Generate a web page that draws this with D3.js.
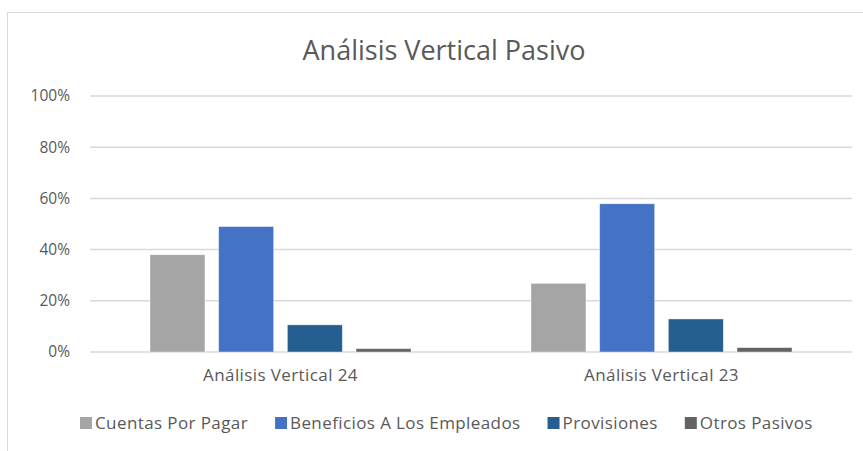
<!DOCTYPE html>
<html>
<head>
<meta charset="utf-8">
<script src="https://cdn.jsdelivr.net/npm/d3@7"></script>
<style>
  body { margin: 0; background: #fff; }
  text { font-family: "Open Sans", sans-serif; fill: #595959; }
</style>
</head>
<body>
<div id="chart"></div>
<script>
const categories = ["Análisis Vertical 24", "Análisis Vertical 23"];
const seriesNames = ["Cuentas Por Pagar", "Beneficios A Los Empleados", "Provisiones", "Otros Pasivos"];
const seriesColors = ["#A5A5A5", "#4472C4", "#255E91", "#636363"];
const values24 = [0.38, 0.49, 0.106, 0.013];
const values23 = [0.268, 0.579, 0.129, 0.017];
const yTicks = [0, 0.2, 0.4, 0.6, 0.8, 1];

const width = 863;
const height = 451;
const margin = { top: 96, right: 11, bottom: 99, left: 90 };

const rows = categories.map((c, i) => ({
  category: c,
  values: (i === 0 ? values24 : values23).map((v, j) => ({ name: seriesNames[j], value: v, color: seriesColors[j] }))
}));

const svg = d3.select("#chart")
  .append("svg")
  .attr("width", width)
  .attr("height", height);

// chart frame
svg.append("rect")
  .attr("x", 7.5)
  .attr("y", 12.5)
  .attr("width", 880)
  .attr("height", 460)
  .attr("fill", "none")
  .attr("stroke", "#d9d9d9")
  .attr("stroke-width", 1);

svg.append("text")
  .attr("x", 444)
  .attr("y", 60)
  .attr("text-anchor", "middle")
  .attr("font-size", 27)
  .text("Análisis Vertical Pasivo");

const x0 = d3.scaleBand()
  .domain(categories)
  .range([margin.left, width - margin.right]);

const x1 = d3.scaleBand()
  .domain(seriesNames)
  .range([60, x0.bandwidth() - 60])
  .paddingInner(0.2);

const y = d3.scaleLinear()
  .domain([0, 1])
  .range([height - margin.bottom, margin.top]);

// gridlines
svg.append("g")
  .selectAll("line")
  .data(yTicks)
  .join("line")
  .attr("x1", margin.left)
  .attr("x2", width - margin.right)
  .attr("y1", d => y(d))
  .attr("y2", d => y(d))
  .attr("stroke", "#d9d9d9")
  .attr("stroke-width", 1.5);

// y labels
const yAxis = svg.append("g")
  .attr("transform", `translate(${margin.left - 20},0)`)
  .call(d3.axisLeft(y).tickValues(yTicks).tickFormat(d3.format(".0%")).tickSize(0).tickPadding(0));
yAxis.select(".domain").remove();
yAxis.selectAll("text")
  .attr("font-size", 15.5)
  .attr("font-family", "Open Sans, sans-serif")
  .attr("fill", "#595959");

// bars
const groups = svg.append("g")
  .selectAll("g")
  .data(rows)
  .join("g")
  .attr("transform", d => `translate(${x0(d.category)},0)`);

groups.selectAll("rect")
  .data(d => d.values)
  .join("rect")
  .attr("x", d => x1(d.name))
  .attr("y", d => y(d.value))
  .attr("width", x1.bandwidth())
  .attr("height", d => y(0) - y(d.value))
  .attr("fill", d => d.color)
  .attr("stroke", "#ffffff")
  .attr("stroke-opacity", 0.5)
  .attr("stroke-width", 0.75);

// category labels
const xAxis = svg.append("g")
  .attr("transform", `translate(0,${y(0) + 12})`)
  .call(d3.axisBottom(x0).tickSize(0).tickPadding(5));
xAxis.select(".domain").remove();
xAxis.selectAll("text")
  .attr("font-size", 17)
  .attr("font-family", "Open Sans, sans-serif")
  .attr("fill", "#595959")
  .attr("letter-spacing", 0.4);

// legend
const legend = svg.append("g").attr("transform", "translate(0,423)");
let lx = 80;
const items = legend.selectAll("g")
  .data(seriesNames)
  .join("g");
items.append("rect")
  .attr("y", -6)
  .attr("width", 12)
  .attr("height", 12)
  .attr("fill", (d, i) => seriesColors[i]);
items.append("text")
  .attr("x", 15)
  .attr("dy", "0.35em")
  .attr("font-size", 17)
  .attr("letter-spacing", 0.4)
  .text(d => d);
items.each(function () {
  const g = d3.select(this);
  g.attr("transform", `translate(${lx},0)`);
  lx += this.getBBox().width + 27;
});
</script>
</body>
</html>
